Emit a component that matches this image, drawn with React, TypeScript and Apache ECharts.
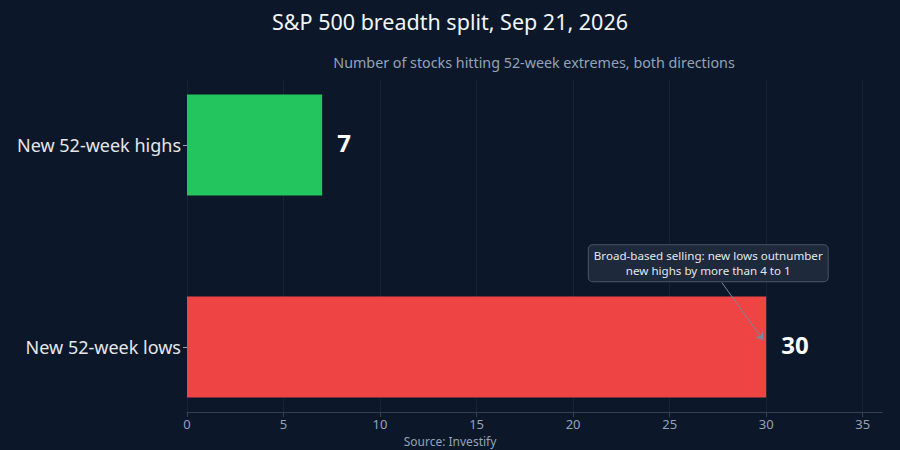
import { useEffect, useRef } from 'react'
import * as echarts from 'echarts'

// 数据：两类 52 周极值个股数量
const categories = ['New 52-week lows', 'New 52-week highs']
const counts = [30, 7]
const barColors = ['#ef4444', '#22c55e']
const xTicks = [0, 5, 10, 15, 20, 25, 30, 35]

// 注释：文字框中心、箭头起止（数据坐标，y=0 为 lows、y=1 为 highs）
const noteText = 'Broad-based selling: new lows outnumber\nnew highs by more than 4 to 1'
const noteAt = [27, 0.415]
const arrowFrom = [27.7, 0.32]
const arrowTo = [29.85, 0.035]

const BG = '#0c1829'
const FONT = '"Noto Sans", "Open Sans", sans-serif'
const GRID_LINE = 'rgba(148,163,184,0.08)'

export default function App() {
  const elRef = useRef<HTMLDivElement>(null)

  useEffect(() => {
    if (!elRef.current) return
    const chart = echarts.init(elRef.current, undefined, { renderer: 'svg' })
    chart.setOption({
      animation: false,
      backgroundColor: BG,
      textStyle: { fontFamily: FONT },
      title: [
        {
          text: 'S&P 500 breadth split, Sep 21, 2026',
          left: 'center',
          top: 5,
          textStyle: { color: '#f1f5f9', fontSize: 21.5, fontWeight: 'normal', fontFamily: FONT },
        },
        {
          text: 'Number of stocks hitting 52-week extremes, both directions',
          left: 529,
          textAlign: 'center',
          top: 50,
          textStyle: { color: '#94a3b8', fontSize: 14.3, fontWeight: 'normal', fontFamily: FONT },
        },
        {
          text: 'Source: Investify',
          left: 'center',
          top: 430,
          textStyle: { color: '#94a3b8', fontSize: 12, fontWeight: 'normal', fontFamily: FONT },
        },
      ],
      // grid 0：网格线 + x 轴刻度 + 注释；grid 1：条形
      grid: [
        { left: 187, right: 18, top: 80, bottom: 38 },
        { left: 187, right: 18, top: 44, height: 404 },
      ],
      xAxis: [
        {
          gridIndex: 0,
          type: 'value',
          min: 0,
          max: 36,
          interval: 5,
          axisLine: { show: true, onZero: false, lineStyle: { color: '#334155' } },
          axisTick: { show: true, length: 5, lineStyle: { color: '#334155' } },
          axisLabel: {
            color: '#94a3b8',
            fontSize: 13,
            margin: 5,
            showMaxLabel: false,
            formatter: (v: number) => (xTicks.includes(v) ? String(v) : ''),
          },
          // 最后一条（max=36 处）不画
          splitLine: {
            show: true,
            lineStyle: { color: [...xTicks.map(() => GRID_LINE), 'transparent'] },
          },
        },
        { gridIndex: 1, type: 'value', min: 0, max: 36, show: false },
      ],
      yAxis: [
        { gridIndex: 0, type: 'value', min: -0.32, max: 1.32, show: false },
        {
          gridIndex: 1,
          type: 'category',
          data: categories,
          axisLine: { show: false },
          axisTick: { show: true, alignWithLabel: true, length: 4, lineStyle: { color: '#94a3b8' } },
          axisLabel: { color: '#e5e7eb', fontSize: 18, margin: 6 },
          splitLine: { show: false },
        },
      ],
      series: [
        {
          type: 'bar',
          xAxisIndex: 1,
          yAxisIndex: 1,
          barWidth: 101,
          data: counts.map((v, i) => ({ value: v, itemStyle: { color: barColors[i] } })),
          label: {
            show: true,
            position: 'right',
            distance: 15,
            offset: [0, -3],
            color: '#ffffff',
            fontSize: 24,
            fontWeight: 'bold',
            fontFamily: FONT,
          },
        },
        {
          type: 'line',
          xAxisIndex: 0,
          yAxisIndex: 0,
          data: [],
          silent: true,
          markLine: {
            silent: true,
            symbol: ['none', 'arrow'],
            symbolSize: 7,
            label: { show: false },
            lineStyle: { color: '#7b8698', width: 1, type: 'solid' },
            data: [[{ coord: arrowFrom }, { coord: arrowTo }]],
          },
          markPoint: {
            silent: true,
            symbol: 'rect',
            symbolSize: 0,
            data: [{ coord: noteAt, value: 0 }],
            label: {
              show: true,
              position: 'inside',
              formatter: noteText,
              color: '#e2e8f0',
              fontSize: 11.6,
              lineHeight: 15,
              align: 'center',
              fontFamily: FONT,
              backgroundColor: '#1e293b',
              borderColor: '#475569',
              borderWidth: 1,
              borderRadius: 4,
              padding: [3, 5],
            },
          },
        },
      ],
    })
    return () => chart.dispose()
  }, [])

  return (
    <div
      ref={elRef}
      style={{ position: 'fixed', left: 0, top: 0, width: 900, height: 450 }}
    />
  )
}
